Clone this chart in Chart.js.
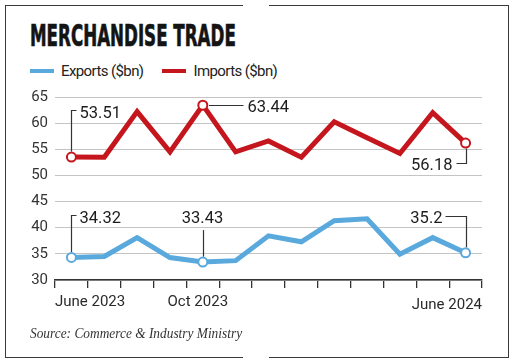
<!DOCTYPE html>
<html lang="en">
<head>
    <meta charset="UTF-8">
    <title>Merchandise Trade</title>
    <script src="https://cdn.jsdelivr.net/npm/chart.js"></script>
    <style>
        body { margin: 0; background: #fff; }
        #wrap { position: relative; width: 518px; height: 362px; overflow: hidden; background: #fff; }
        .frame { position: absolute; left: 5px; top: 5px; width: 504px; height: 353px; border: 1.5px solid #3a3a3a; box-sizing: border-box; }
        .gap { position: absolute; left: 243px; width: 26px; height: 8px; background: #fff; }
        #title {
            position: absolute; left: 30px; top: 20px; white-space: nowrap;
            font: bold 31px/1 "Liberation Sans Narrow", "DejaVu Sans Condensed", sans-serif;
            color: #141414; -webkit-text-stroke: 0.7px #141414;
            transform-origin: left top;
        }
        #legend { position: absolute; left: 30px; top: 62px; display: flex; font: 15px/18px Roboto, sans-serif; letter-spacing: -0.6px; color: #222; }
        .item { display: flex; align-items: center; margin-right: 19px; }
        .swatch { width: 24px; height: 4px; margin-right: 7px; }
        #chart { position: absolute; left: 0; top: 0; }
        #source { position: absolute; left: 30px; top: 325px; font: italic 14.5px/16px "Liberation Serif", serif; color: #333; white-space: nowrap; transform-origin: left top; }
    </style>
</head>
<body>
<div id="wrap">
    <div class="frame"></div>
    <div class="gap" style="top: 2px;"></div>
    <div class="gap" style="top: 353px;"></div>
    <div id="title">MERCHANDISE TRADE</div>
    <div id="legend"></div>
    <canvas id="chart" width="518" height="362"></canvas>
    <div id="source">Source: Commerce &amp; Industry Ministry</div>
</div>

<script>
    // months, June 2023 to June 2024
    const months = ['Jun 2023', 'Jul 2023', 'Aug 2023', 'Sep 2023', 'Oct 2023', 'Nov 2023', 'Dec 2023',
                    'Jan 2024', 'Feb 2024', 'Mar 2024', 'Apr 2024', 'May 2024', 'Jun 2024'];
    const axisLabels = ['June 2023', '', '', '', 'Oct 2023', '', '', '', '', '', '', '', 'June 2024'];
    const exportsBn = [34.32, 34.5, 38.1, 34.3, 33.43, 33.7, 38.45, 37.3, 41.35, 41.7, 34.95, 38.1, 35.2];
    const importsBn = [53.51, 53.5, 62.2, 54.5, 63.44, 54.5, 56.6, 53.5, 60.25, 57.2, 54.2, 62.0, 56.18];
    const seriesNames = ['Exports ($bn)', 'Imports ($bn)'];
    const yMin = 30, yMax = 65, yStep = 5;
    const calloutIdx = [0, 4, 12];   // points that get a value label

    const colors = ['#5aa9dd', '#c4161c'];

    // squeeze the title and source line into their condensed widths
    const title = document.getElementById('title');
    title.style.transform = 'scaleX(' + (206 / title.offsetWidth) + ')';
    const source = document.getElementById('source');
    source.style.transform = 'scaleX(' + (212 / source.offsetWidth) + ')';

    // legend
    const legend = document.getElementById('legend');
    seriesNames.forEach((name, i) => {
        const item = document.createElement('div');
        item.className = 'item';
        item.innerHTML = '<span class="swatch" style="background:' + colors[i] + '"></span><span>' + name + '</span>';
        legend.appendChild(item);
    });

    // value labels with leader lines
    const calloutPlugin = {
        id: 'callouts',
        afterDatasetsDraw(chart) {
            const { ctx } = chart;
            const x = chart.scales.x, y = chart.scales.y;
            const layout = [
                { ds: 1, i: calloutIdx[0], kind: 'upRight', rise: 47 },
                { ds: 1, i: calloutIdx[1], kind: 'right', run: 40 },
                { ds: 1, i: calloutIdx[2], kind: 'downLeft', drop: 20 },
                { ds: 0, i: calloutIdx[0], kind: 'upRight', rise: 42 },
                { ds: 0, i: calloutIdx[1], kind: 'up', rise: 45 },
                { ds: 0, i: calloutIdx[2], kind: 'upLeft', rise: 37 }
            ];
            ctx.save();
            ctx.strokeStyle = '#333';
            ctx.lineWidth = 1.2;
            ctx.fillStyle = '#1c1c1c';
            ctx.font = '16.5px Roboto, sans-serif';
            ctx.textBaseline = 'alphabetic';
            const cap = 6;
            layout.forEach(c => {
                const v = chart.data.datasets[c.ds].data[c.i];
                const px = Math.round(x.getPixelForValue(c.i)) + 0.5;
                const py = y.getPixelForValue(v);
                const txt = String(v);
                const r = 5.5;
                ctx.beginPath();
                if (c.kind === 'upRight') {
                    const ty = Math.round(py - c.rise) + 0.5;
                    ctx.moveTo(px, py - r); ctx.lineTo(px, ty); ctx.lineTo(px + 5, ty);
                    ctx.stroke();
                    ctx.textAlign = 'left';
                    ctx.fillText(txt, px + 8, ty + 1 + cap);
                } else if (c.kind === 'right') {
                    const ty = Math.round(py) + 0.5;
                    ctx.moveTo(px + r, ty); ctx.lineTo(px + c.run, ty);
                    ctx.stroke();
                    ctx.textAlign = 'left';
                    ctx.fillText(txt, px + c.run + 4, ty + cap);
                } else if (c.kind === 'downLeft') {
                    const ty = Math.round(py + c.drop) + 0.5;
                    ctx.moveTo(px, py + r); ctx.lineTo(px, ty); ctx.lineTo(px - 10, ty);
                    ctx.stroke();
                    ctx.textAlign = 'right';
                    ctx.fillText(txt, px - 14, ty + cap);
                } else if (c.kind === 'up') {
                    ctx.moveTo(px, py - r); ctx.lineTo(px, py - c.rise + 13);
                    ctx.stroke();
                    ctx.textAlign = 'center';
                    ctx.fillText(txt, px - 1, py - c.rise + cap);
                } else if (c.kind === 'upLeft') {
                    const ty = Math.round(py - c.rise) + 0.5;
                    ctx.moveTo(px, py - r); ctx.lineTo(px, ty); ctx.lineTo(px - 21, ty);
                    ctx.stroke();
                    ctx.textAlign = 'right';
                    ctx.fillText(txt, px - 24, ty + cap);
                }
            });
            ctx.restore();
        }
    };

    // the three month labels under the axis
    const xLabelPlugin = {
        id: 'xLabels',
        afterDraw(chart) {
            const { ctx } = chart;
            const x = chart.scales.x;
            const step = x.getPixelForValue(1) - x.getPixelForValue(0);
            const last = axisLabels.length - 1;
            ctx.save();
            ctx.fillStyle = '#2a2a2a';
            ctx.font = '15px Roboto, sans-serif';
            axisLabels.forEach((lab, i) => {
                if (!lab) return;
                const px = x.getPixelForValue(i);
                if (i === 0) {
                    ctx.textAlign = 'left';
                    ctx.fillText(lab, px - step / 2, x.top + 26);
                } else if (i === last) {
                    ctx.textAlign = 'right';
                    ctx.fillText(lab, px + step / 2, x.top + 29);
                } else {
                    ctx.textAlign = 'center';
                    ctx.fillText(lab, px - 5, x.top + 26);
                }
            });
            ctx.restore();
        }
    };

    const pointRadius = ctx => calloutIdx.includes(ctx.dataIndex) ? 4.5 : 0;

    const chart = new Chart(document.getElementById('chart'), {
        type: 'line',
        data: {
            labels: months,
            datasets: [
                {
                    label: seriesNames[0],
                    data: exportsBn,
                    borderColor: colors[0],
                    borderWidth: 5,
                    pointRadius: pointRadius,
                    pointBackgroundColor: '#fff',
                    pointBorderColor: colors[0],
                    pointBorderWidth: 2,
                    tension: 0
                },
                {
                    label: seriesNames[1],
                    data: importsBn,
                    borderColor: colors[1],
                    borderWidth: 5,
                    pointRadius: pointRadius,
                    pointBackgroundColor: '#fff',
                    pointBorderColor: colors[1],
                    pointBorderWidth: 2,
                    tension: 0
                }
            ]
        },
        options: {
            responsive: false,
            animation: false,
            layout: { padding: { left: 0, top: 97, right: 36, bottom: 0 } },
            plugins: {
                legend: { display: false },
                tooltip: { enabled: false }
            },
            scales: {
                x: {
                    type: 'category',
                    offset: true,
                    grid: { offset: true, drawOnChartArea: false, drawTicks: true, tickLength: 8, color: '#333', lineWidth: 1.3 },
                    border: { display: true, color: '#333', width: 1.5 },
                    ticks: { display: false },
                    afterFit: s => { s.height = 82; }
                },
                y: {
                    min: yMin,
                    max: yMax,
                    ticks: { stepSize: yStep, padding: 7, color: '#333', font: { family: 'Roboto', size: 15 } },
                    grid: { color: '#c4c4c4', lineWidth: 1, drawTicks: false },
                    border: { display: false },
                    afterFit: s => { s.width = 55; }
                }
            }
        },
        plugins: [calloutPlugin, xLabelPlugin]
    });
</script>
</body>
</html>
